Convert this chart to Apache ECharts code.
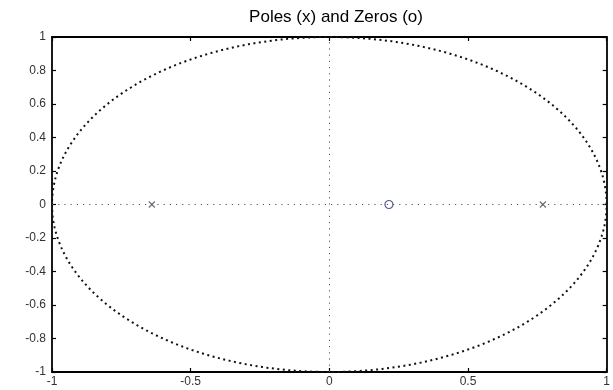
<!DOCTYPE html>
<html><head><meta charset="utf-8">
<script src="https://cdn.jsdelivr.net/npm/echarts@6/dist/echarts.min.js"></script>
<style>html,body{margin:0;padding:0;background:#fff}#c{width:613px;height:390px}</style>
</head><body><div id="c"></div>
<script>
var titleText = 'Poles (x) and Zeros (o)';
var poles = [[-0.64, 0], [0.77, 0]];
var zeros = [[0.215, 0]];
var unitCircle = [[0, 0, 1]]; // center x, center y, radius
var xTicks = [-1, -0.5, 0, 0.5, 1];
var yTicks = [-1, -0.8, -0.6, -0.4, -0.2, 0, 0.2, 0.4, 0.6, 0.8, 1];

var font = 'Liberation Sans, Arial, sans-serif';
var chart = echarts.init(document.getElementById('c'));
var xPath = 'path://M0,0L10,10M10,0L0,10';
function fmt(v){ return String(v); }
var baseAxis = {
  axisLine: {show: true, onZero: false, lineStyle: {color: '#000', width: 1.8}},
  axisTick: {show: true, inside: true, length: 4, lineStyle: {color: '#000', width: 1.2}},
  splitLine: {show: false}
};
chart.setOption({
  animation: false,
  title: {text: titleText, left: 331, top: 4, textAlign: 'center',
    textStyle: {fontFamily: font, fontSize: 17, fontWeight: 'normal', color: '#000'}},
  grid: {left: 52, right: 2, top: 37, bottom: 18, containLabel: false},
  xAxis: [
    Object.assign({type: 'value', min: -1, max: 1, interval: 0.5, position: 'bottom',
      axisLabel: {fontFamily: font, fontSize: 12, color: '#333', margin: 4, formatter: fmt}}, baseAxis),
    Object.assign({type: 'value', min: -1, max: 1, interval: 0.5, position: 'top',
      axisLabel: {show: false}}, baseAxis)
  ],
  yAxis: [
    Object.assign({type: 'value', min: -1, max: 1, interval: 0.2, position: 'left',
      axisLabel: {fontFamily: font, fontSize: 12, color: '#333', margin: 6,
        formatter: function(v){ return String(Math.round(v*10)/10); }}}, baseAxis),
    Object.assign({type: 'value', min: -1, max: 1, interval: 0.2, position: 'right',
      axisLabel: {show: false}}, baseAxis)
  ],
  series: [
    {
      type: 'custom', xAxisIndex: 0, yAxisIndex: 0, data: unitCircle, silent: true,
      renderItem: function(params, api){
        var cx = api.value(0), cy = api.value(1), r = api.value(2);
        var pts = [];
        var n = 360;
        for (var i = 0; i <= n; i++) {
          var t = 2 * Math.PI * i / n;
          pts.push(api.coord([cx + r * Math.cos(t), cy + r * Math.sin(t)]));
        }
        return {type: 'polyline', shape: {points: pts},
          style: {fill: null, stroke: '#111', lineWidth: 2, lineDash: [2, 3.5]}};
      },
      markLine: {
        silent: true, symbol: 'none', label: {show: false},
        lineStyle: {color: '#555', width: 1, type: [1.2, 5]},
        data: [{xAxis: 0}, {yAxis: 0}]
      },
      z: 2
    },
    {
      type: 'scatter', data: poles, symbol: xPath, symbolSize: 6,
      itemStyle: {color: 'none', borderColor: '#4a4a5a', borderWidth: 1.2}, z: 3
    },
    {
      type: 'scatter', data: zeros, symbol: 'circle', symbolSize: 8,
      itemStyle: {color: 'none', borderColor: '#2a2a7a', borderWidth: 1.2}, z: 3
    }
  ]
});
</script></body></html>
